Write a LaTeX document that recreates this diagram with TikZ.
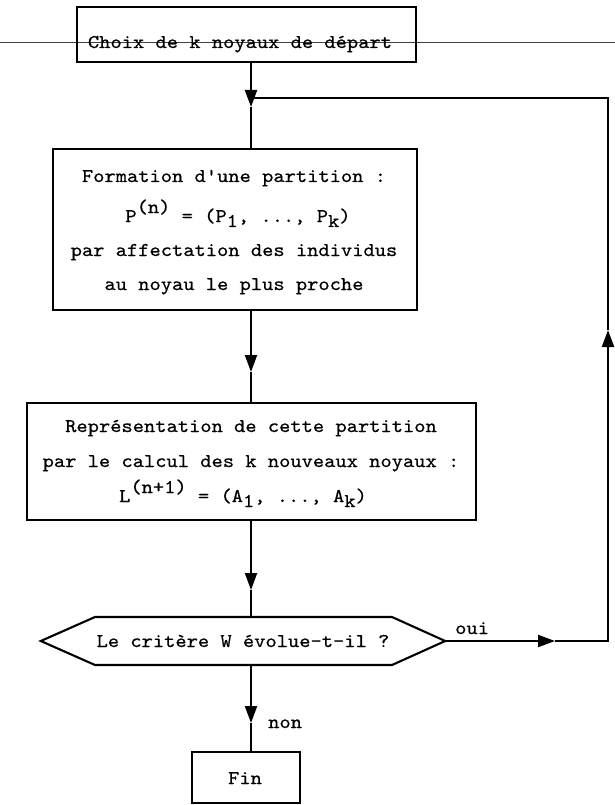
\documentclass[tikz,border=0pt]{standalone}
\usepackage{fontspec}
\newfontfamily\tw{lmmono10-regular.otf}[FakeBold=0.5, FakeStretch=1.1]
\usetikzlibrary{arrows.meta}
\begin{document}
\begin{tikzpicture}[x=1pt,y=-1pt,
  every node/.style={font=\tw\fontsize{19.5}{23}\selectfont},
  box/.style={draw, line width=2.1pt, inner sep=0pt},
  lbl/.style={anchor=base, inner sep=0pt},
  conn/.style={line width=2.1pt, line join=miter},
  arr/.style={line width=2.1pt, line join=miter, -{Triangle[length=17pt,width=12pt]}},
]
\useasboundingbox[fill=white] (0,0) rectangle (615,805);
% stray scan line
\coordinate (sl) at (0,42);
\coordinate (sr) at (615,42);
\draw[black!75, line width=0.9pt] (sl) -- (sr);
\coordinate (spine) at (251,0);

% boxes
\node[box, minimum width=339pt, minimum height=55pt] (b1) at (246.5,34.5) {};
\node[lbl] (t1) at (240,48) {Choix de k noyaux de départ};

\node[box, minimum width=364pt, minimum height=161pt] (b2) at (235,229.5) {};
\node[lbl] (t2a) at (234,182) {Formation d'une partition :};
\node[lbl] (t2b) at (238,222) {P\raisebox{9pt}{(n)} = (P\raisebox{-5pt}{1}, ..., P\raisebox{-5pt}{k})};
\node[lbl] (t2c) at (234,256) {par affectation des individus};
\node[lbl] (t2d) at (234,290) {au noyau le plus proche};

\node[box, minimum width=449pt, minimum height=117pt] (b3) at (251.5,461.5) {};
\node[lbl] (t3a) at (251,432) {Représentation de cette partition};
\node[lbl] (t3b) at (251,467) {par le calcul des k nouveaux noyaux :};
\node[lbl] (t3c) at (243,502) {L\raisebox{9pt}{(n+1)} = (A\raisebox{-5pt}{1}, ..., A\raisebox{-5pt}{k})};

% decision hexagon
\node[inner sep=0pt, minimum width=404pt, minimum height=48pt] (hex) at (243,641) {};
\draw[conn] (hex.west) -- (95,617) -- (392,617) -- (hex.east) -- (392,665) -- (95,665) -- cycle;
\node[lbl] (t4) at (243,647) {Le critère W évolue-t-il ?};

\node[box, minimum width=108pt, minimum height=51pt] (b5) at (246,777.5) {};
\node[lbl] (t5) at (245,784) {Fin};

% connectors
\coordinate (a1) at (251,107);
\coordinate (a2) at (251,372);
\coordinate (a3) at (251,590);
\coordinate (a4) at (251,723);
\coordinate (a5) at (555,641);
\coordinate (c1) at (608,641);
\coordinate (a6) at (608,330);
\coordinate (c2) at (608,98);
\coordinate (j) at (251,98);

\draw[arr] (b1.south -| spine) -- (a1);
\draw[conn] (a1) -- (b2.north -| spine);
\draw[arr] (b2.south -| spine) -- (a2);
\draw[conn] (a2) -- (b3.north -| spine);
\draw[arr] (b3.south -| spine) -- (a3);
\draw[conn] (a3) -- (hex.north -| spine);
\draw[arr] (hex.south -| spine) -- (a4);
\draw[conn] (a4) -- (b5.north -| spine);
\node[lbl, anchor=base west] (non) at (268,728) {non};

\draw[arr] (hex.east) -- (a5);
\node[lbl, anchor=base west] (oui) at (455,634) {oui};
\draw[arr] (a5) -- (c1) -- (a6);
\draw[conn] (a6) -- (c2) -- (j);
\end{tikzpicture}
\end{document}
